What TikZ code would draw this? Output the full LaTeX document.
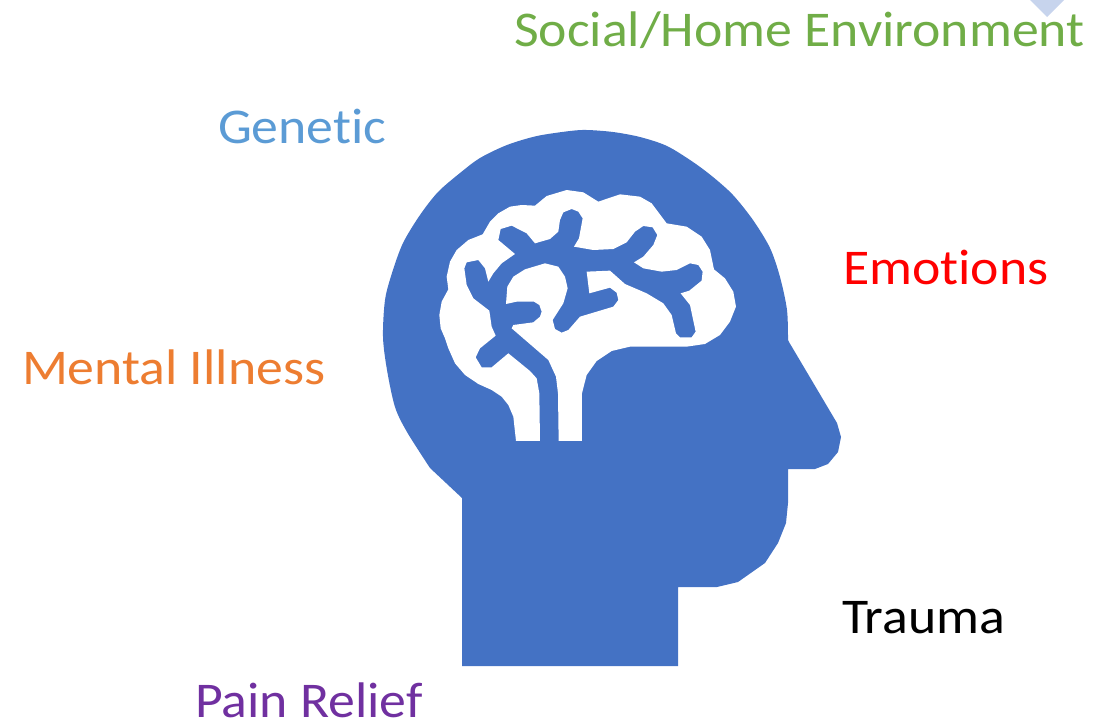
\documentclass[tikz,border=0pt]{standalone}
\usepackage{fontspec}
\setmainfont[FakeStretch=1.075,Ligatures={NoCommon},Kerning=On]{Carlito}
\definecolor{headblue}{HTML}{4472C4}
\definecolor{lightblue}{HTML}{C7D4ED}
\definecolor{genblue}{HTML}{5B9BD5}
\definecolor{menorange}{HTML}{ED7D31}
\definecolor{socgreen}{HTML}{70AD47}
\definecolor{painpurple}{HTML}{7030A0}
\tikzset{lab/.style={anchor=base west,inner sep=0pt,outer sep=0pt,font=\fontsize{50}{52}\selectfont}}
\begin{document}
\begin{tikzpicture}[x=1pt,y=-1pt]
\useasboundingbox (0,0) rectangle (1110,723);
\fill[lightblue] (1030,0) -- (1047,17) -- (1064,0) -- cycle;
\fill[headblue] (462,666) -- (678,666) -- (678,587) -- (717,587) -- (738,582) -- (765,563) -- (778,543) -- (786,523) -- (788,503) -- (788,469) -- (815,469) -- (828,464) -- (838,452) -- (841,437) -- (837,423) -- (789,342) -- plot[smooth,tension=0.5] coordinates {(788,340) (787,310) (780,277) (770,248) (753,220) (733,195) (713,177) (693,162) (667,146) (640,137) (613,132) (587,130) (570,131) (537,136) (507,145) (480,158) (460,173) (438,192) (420,215) (403,243) (392,273) (385,300) (383,337) (387,370) (395,407) (407,432) (430,468)} -- (462,498) -- cycle;
\begin{scope}[shift={(430,180)},x=0.3333pt,y=-0.3333pt]
\fill[white] (258,783) -- (250,710) -- (235,675) -- (215,650) -- (185,630) -- (145,612) -- (105,585) -- (75,550) -- (55,505) -- (45,475) -- (32,445) -- (28,405) -- (35,365) -- (55,328) -- (50,290) -- (60,245) -- (80,210) -- (115,180) -- (158,163) -- (180,125) -- (205,100) -- (240,80) -- (275,75) -- (315,77) -- (350,48) -- (410,30) -- (460,37) -- (505,65) -- (570,43) -- (630,50) -- (665,70) -- (710,130) -- (770,140) -- (815,170) -- (840,210) -- (852,268) -- (885,295) -- (910,335) -- (918,380) -- (900,425) -- (870,465) -- (825,492) -- (770,500) -- (600,500) -- (545,513) -- (500,543) -- (470,585) -- (456,640) -- (456,783) -- (386,783) -- (384,640) -- (378,590) -- (355,540) -- (245,445) -- (250,435) -- (310,427) -- (330,410) -- (335,395) -- (328,375) -- (312,365) -- (260,365) -- (228,372) -- (232,320) -- (250,290) -- (285,268) -- (345,250) -- (385,260) -- (405,290) -- (413,325) -- (400,370) -- (368,420) -- (375,447) -- (395,458) -- (415,450) -- (450,410) -- (550,380) -- (565,360) -- (560,338) -- (540,323) -- (478,340) -- (470,275) -- (540,272) -- (585,312) -- (650,340) -- (700,370) -- (725,405) -- (738,460) -- (750,472) -- (785,472) -- (797,455) -- (780,375) -- (752,340) -- (778,332) -- (815,302) -- (818,275) -- (805,255) -- (780,250) -- (740,270) -- (695,275) -- (640,265) -- (612,247) -- (640,230) -- (670,195) -- (682,165) -- (668,142) -- (640,138) -- (615,155) -- (590,187) -- (550,207) -- (490,210) -- (432,200) -- (447,175) -- (458,115) -- (445,95) -- (425,87) -- (400,97) -- (390,120) -- (385,155) -- (360,177) -- (315,190) -- (290,160) -- (245,137) -- (212,147) -- (205,180) -- (255,222) -- (215,250) -- (190,280) -- (175,305) -- (165,265) -- (145,240) -- (110,247) -- (103,265) -- (110,315) -- (130,355) -- (178,392) -- (185,440) -- (197,467) -- (150,505) -- (137,532) -- (155,562) -- (185,562) -- (235,520) -- (300,573) -- (320,595) -- (328,640) -- (330,783) -- cycle;
\end{scope}
\node[lab,text=socgreen] (social) at (514,46.5) {Social/Home Environment};
\node[lab,text=genblue] (genetic) at (218,143) {Genetic};
\node[lab,text=red] (emotions) at (843,284) {Emotions};
\node[lab,text=menorange] (mental) at (22,384) {Mental Illness};
\node[lab,text=black] (trauma) at (842,633.5) {Trauma};
\node[lab,text=painpurple] (pain) at (195,717) {Pain Relief};
\end{tikzpicture}
\end{document}
